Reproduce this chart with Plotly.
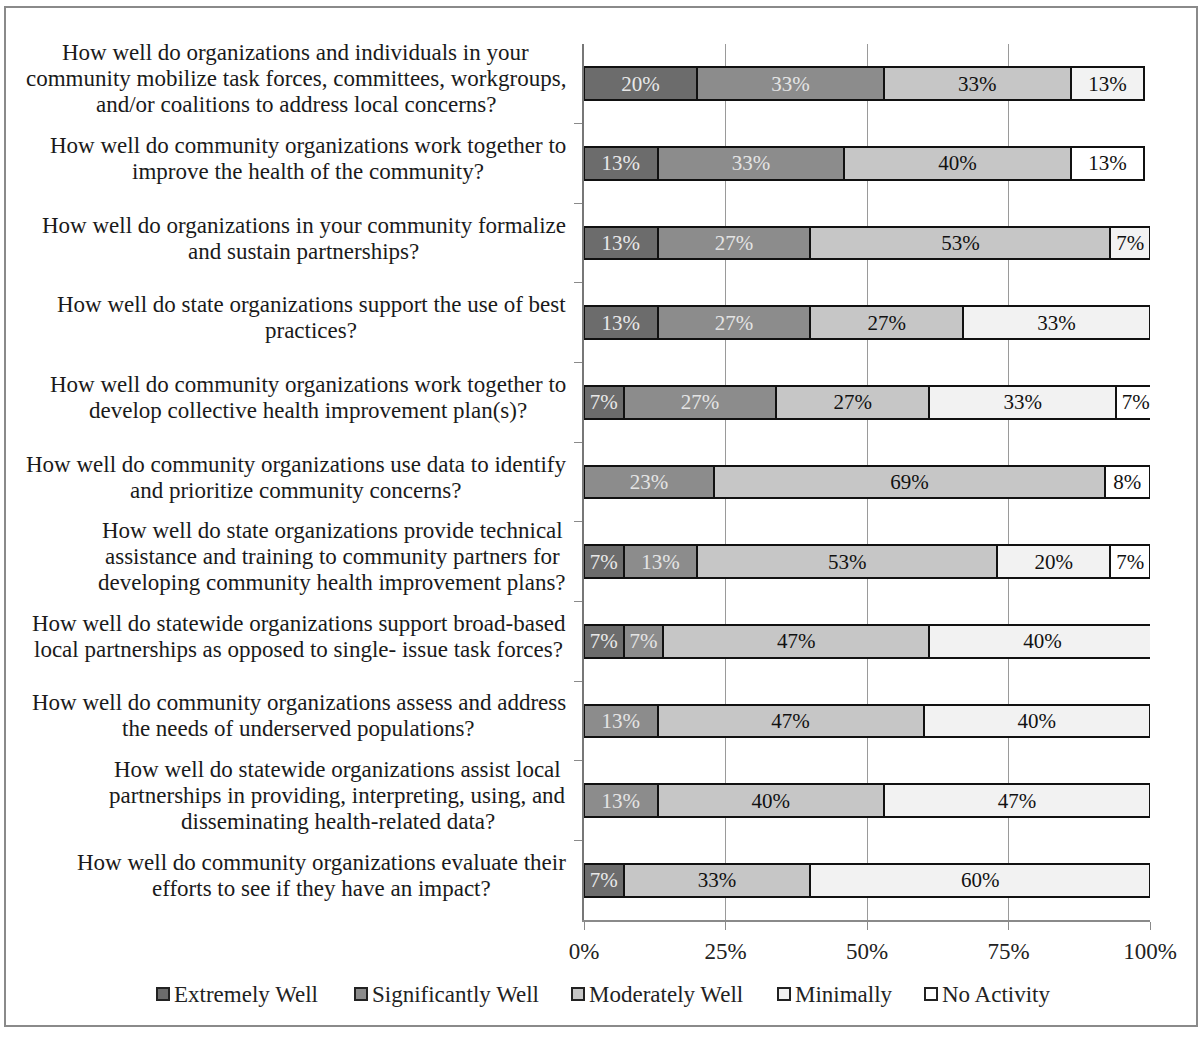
import plotly.graph_objects as go

questions = [
    "How well do organizations and individuals in your<br>community mobilize task forces, committees, workgroups,<br>and/or coalitions to address local concerns?",
    "How well do community organizations work together to<br>improve the health of the community?",
    "How well do organizations in your community formalize<br>and sustain partnerships?",
    "How well do state organizations support the use of best<br>practices?",
    "How well do community organizations work together to<br>develop collective health improvement plan(s)?",
    "How well do community organizations use data to identify<br>and prioritize community concerns?",
    "How well do state organizations provide technical<br>assistance and training to community partners for<br>developing community health improvement plans?",
    "How well do statewide organizations support broad-based<br>local partnerships as opposed to single- issue task forces?",
    "How well do community organizations assess and address<br>the needs of underserved populations?",
    "How well do statewide organizations assist local<br>partnerships in providing, interpreting, using, and<br>disseminating health-related data?",
    "How well do community organizations evaluate their<br>efforts to see if they have an impact?",
]

extremely_well = [20, 13, 13, 13, 7, 0, 7, 7, 0, 0, 7]
significantly_well = [33, 33, 27, 27, 27, 23, 13, 7, 13, 13, 0]
moderately_well = [33, 40, 53, 27, 27, 69, 53, 47, 47, 40, 33]
minimally = [13, 0, 7, 33, 33, 0, 20, 40, 40, 47, 60]
no_activity = [0, 13, 0, 0, 7, 8, 7, 0, 0, 0, 0]

series_names = ["Extremely Well", "Significantly Well", "Moderately Well", "Minimally", "No Activity"]
series_values = [extremely_well, significantly_well, moderately_well, minimally, no_activity]
series_colors = ["#6c6c6c", "#8c8c8c", "#c6c6c6", "#f2f2f2", "#ffffff"]
label_colors = ["#e8e8e8", "#e4e4e4", "#111111", "#111111", "#111111"]

x_tick_vals = [0, 25, 50, 75, 100]
x_tick_text = ["0%", "25%", "50%", "75%", "100%"]

cats = list(range(len(questions)))
serif = "Liberation Serif, Times New Roman, serif"

# figure geometry (pixels)
FIG_W, FIG_H = 1199, 1038
M_L, M_R, M_T, M_B = 584, 49, 44, 118
PLOT_W = FIG_W - M_L - M_R
PLOT_H = FIG_H - M_T - M_B


def px_x(X):
    return (X - M_L) / PLOT_W


def px_y(Y):
    return (FIG_H - M_B - Y) / PLOT_H


# Times-style advance widths (1/1000 em) for laying out the centred label blocks
_W = {" ": 250, "(": 333, ")": 333, ",": 250, "-": 333, ".": 250, "/": 278, "?": 444,
      "A": 722, "H": 722, "a": 444, "b": 500, "c": 444, "d": 500, "e": 444, "f": 333,
      "g": 500, "h": 500, "i": 278, "j": 278, "k": 500, "l": 278, "m": 778, "n": 500,
      "o": 500, "p": 500, "q": 500, "r": 333, "s": 389, "t": 278, "u": 500, "v": 500,
      "w": 722, "x": 500, "y": 500, "z": 444}


def text_width(s, size):
    return sum(_W.get(ch, 500) for ch in s) * size / 1000.0


LABEL_SIZE = 23
LINE_H = 26
LABEL_RIGHT = 566

fig = go.Figure()
for name, vals, color, tcolor in zip(series_names, series_values, series_colors, label_colors):
    fig.add_trace(go.Bar(
        name=name,
        y=cats,
        x=vals,
        orientation="h",
        marker=dict(color=color, line=dict(color="#111111", width=2)),
        text=[f"{v}%" if v else "" for v in vals],
        textposition="inside",
        insidetextanchor="middle",
        constraintext="none",
        textfont=dict(family=serif, size=21, color=tcolor),
        hoverinfo="skip",
        showlegend=False,
    ))

# question labels: each line centred within its block, block ends just left of the axis
for c, q in zip(cats, questions):
    lines = q.split("<br>")
    n = len(lines)
    block_w = max(text_width(s, LABEL_SIZE) for s in lines)
    cx = px_x(LABEL_RIGHT - block_w / 2)
    for i, line in enumerate(lines):
        fig.add_annotation(
            x=cx, xref="paper", y=c, yref="y",
            yshift=((n - 1) / 2 - i) * LINE_H + 5,
            text=line, showarrow=False, xanchor="center", yanchor="middle",
            font=dict(family=serif, size=LABEL_SIZE, color="#1a1a1a"),
        )

# legend row along the bottom
legend_x = [157, 355, 572, 778, 925]
legend_y = 994
for name, color, lx in zip(series_names, series_colors, legend_x):
    fig.add_shape(type="rect", xref="paper", yref="paper",
                  x0=px_x(lx), x1=px_x(lx + 12), y0=px_y(legend_y + 6), y1=px_y(legend_y - 6),
                  fillcolor=color, line=dict(color="#222222", width=2))
    fig.add_annotation(x=px_x(lx + 15), y=px_y(legend_y), xref="paper", yref="paper",
                       text=name, showarrow=False, xanchor="left", yanchor="middle",
                       font=dict(family=serif, size=23, color="#222222"))

# outer frame
fig.add_shape(type="rect", xref="paper", yref="paper",
              x0=px_x(5), x1=px_x(1197), y0=px_y(1026), y1=px_y(7),
              line=dict(color="#8a8a8a", width=2), fillcolor="rgba(0,0,0,0)", layer="below")

fig.update_layout(
    width=FIG_W, height=FIG_H,
    margin=dict(l=M_L, r=M_R, t=M_T, b=M_B),
    barmode="stack",
    bargap=0.59,
    plot_bgcolor="#ffffff",
    paper_bgcolor="#ffffff",
    font=dict(family=serif, size=20, color="#1a1a1a"),
    showlegend=False,
    xaxis=dict(
        range=[0, 100], tickvals=x_tick_vals, ticktext=x_tick_text,
        showgrid=True, gridcolor="#9a9a9a", gridwidth=1,
        zeroline=False, showline=True, linecolor="#8a8a8a", linewidth=1.5,
        ticks="outside", ticklen=8, tickcolor="#8a8a8a",
        ticklabelstandoff=2,
        tickfont=dict(family=serif, size=23, color="#222222"),
        fixedrange=True,
    ),
    yaxis=dict(
        type="linear", range=[len(cats) - 0.5, -0.5],
        tickvals=[c + 0.5 for c in cats[:-1]], showticklabels=False,
        ticks="outside", ticklen=8, tickcolor="#8a8a8a",
        showgrid=False, zeroline=False,
        showline=True, linecolor="#777777", linewidth=1.5,
        fixedrange=True,
    ),
)

fig.write_html("out.html")
